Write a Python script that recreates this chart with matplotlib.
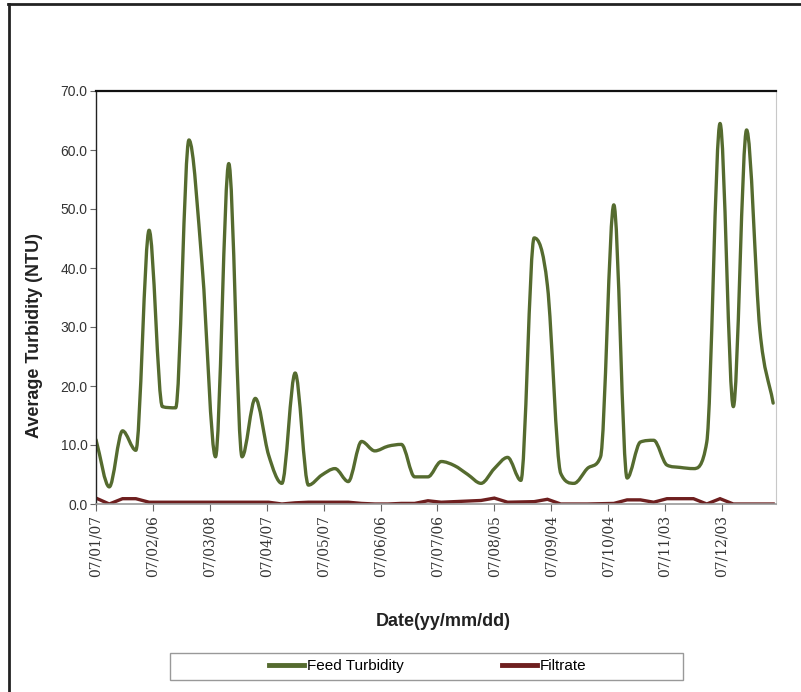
import numpy as np
import pandas as pd
import matplotlib
matplotlib.use("Agg")
import matplotlib.pyplot as plt
import matplotlib.dates as mdates
from matplotlib.path import Path
from matplotlib.patches import PathPatch, Rectangle
from matplotlib.lines import Line2D

# weekly samples, Jan 7 2007 onwards
dates = pd.date_range("2007-01-07", periods=52, freq="7D")
feed = [10.9, 2.9, 12.4, 9.1, 46.4, 16.5, 16.3, 61.7, 40.2, 8.0,
        57.7, 8.0, 17.9, 8.3, 3.5, 22.2, 3.2, 4.9, 6.0, 3.8,
        10.6, 9.0, 9.8, 10.1, 4.6, 4.6, 7.2, 6.5, 5.0, 3.5,
        6.0, 7.9, 4.0, 45.1, 37.0, 5.2, 3.5, 6.0, 8.0, 50.7,
        4.4, 10.5, 10.8, 6.6, 6.2, 6.0, 10.5, 64.5, 16.5, 63.4,
        29.5, 17.1]
filtrate = [1.0, 0.0, 0.9, 0.9, 0.3, 0.3, 0.3, 0.3, 0.3, 0.3,
            0.3, 0.3, 0.3, 0.3, 0.0, 0.2, 0.3, 0.3, 0.3, 0.3,
            0.1, 0.0, 0.0, 0.1, 0.1, 0.55, 0.3, 0.4, 0.5, 0.6,
            1.0, 0.3, 0.35, 0.4, 0.8, 0.0, 0.0, 0.0, 0.05, 0.1,
            0.7, 0.7, 0.3, 0.9, 0.9, 0.9, 0.0, 0.9, 0.0, 0.0,
            0.0, 0.0]
tick_dates = pd.date_range("2007-01-07", periods=12, freq="30D")

green = "#556B2F"
maroon = "#6E1F1F"

plt.rcParams["font.family"] = ["DejaVu Serif"]


def smooth_path(x, y):
    # smoothed line through the points, cubic Bezier with limited tangents (no overshoot)
    n = len(x)
    h = np.diff(x)
    d = np.diff(y) / h
    m = np.zeros(n)
    m[0], m[-1] = d[0], d[-1]
    for i in range(1, n - 1):
        if d[i - 1] * d[i] <= 0:
            m[i] = 0.0
        else:
            cr = (y[i + 1] - y[i - 1]) / (x[i + 1] - x[i - 1])
            lim = 3 * min(abs(d[i - 1]), abs(d[i]))
            m[i] = np.sign(cr) * min(abs(cr), lim)
    verts = [(x[0], y[0])]
    codes = [Path.MOVETO]
    for i in range(n - 1):
        verts += [(x[i] + h[i] / 3, y[i] + m[i] * h[i] / 3),
                  (x[i + 1] - h[i] / 3, y[i + 1] - m[i + 1] * h[i] / 3),
                  (x[i + 1], y[i + 1])]
        codes += [Path.CURVE4] * 3
    return Path(verts, codes)


fig = plt.figure(figsize=(8.01, 6.92), dpi=100)
ax = fig.add_axes([96 / 801, 1 - 504 / 692, 680 / 801, 413 / 692])

xnum = mdates.date2num(dates)
ax.add_patch(PathPatch(smooth_path(xnum, np.array(feed)), facecolor="none",
                       edgecolor=green, lw=2.4, capstyle="round", joinstyle="round"))
ax.plot(dates, filtrate, color=maroon, lw=2.4, solid_joinstyle="miter")

ax.set_xlim(mdates.date2num(pd.Timestamp("2007-01-07")), mdates.date2num(pd.Timestamp("2007-12-31")) + 0.5)
ax.set_ylim(0, 70)
ax.set_yticks(np.arange(0, 71, 10))
ax.yaxis.set_major_formatter(matplotlib.ticker.FormatStrFormatter("%.1f"))
ax.set_xticks(mdates.date2num(tick_dates))
ax.xaxis.set_major_formatter(mdates.DateFormatter("%y/%m/%d"))

ax.tick_params(axis="y", direction="out", length=4, color="#666666", labelsize=10,
               labelcolor="#333333", pad=2)
ax.tick_params(axis="x", direction="out", length=5, color="#666666", pad=3,
               labelsize=10, labelcolor="#333333", labelrotation=90)
fig.canvas.draw()
for lab in ax.get_yticklabels():
    lab.set_fontfamily("Liberation Sans")
for lab in ax.get_xticklabels():
    lab.set_fontfamily("DejaVu Serif")

ax.spines["top"].set_color("#111111")
ax.spines["top"].set_linewidth(1.6)
ax.spines["left"].set_color("#222222")
ax.spines["left"].set_linewidth(1.0)
ax.spines["right"].set_color("#c8c8c8")
ax.spines["bottom"].set_color("#999999")
ax.spines["bottom"].set_linewidth(1.2)

ax.set_ylabel("Average Turbidity (NTU)", fontsize=13, fontweight="bold",
              family="Liberation Sans", color="#222222")
ax.yaxis.set_label_coords(-0.078, 0.409)
ax.set_xlabel("Date(yy/mm/dd)", fontsize=13, fontweight="bold",
              family="Liberation Sans", color="#222222")
ax.xaxis.set_label_coords(0.51, -0.264)

# outer frame (top and left edges)
fig.add_artist(Line2D([8 / 801, 1], [1 - 4 / 692, 1 - 4 / 692], color="#222222", lw=2))
fig.add_artist(Line2D([9 / 801, 9 / 801], [0, 1 - 4 / 692], color="#222222", lw=2))

# legend box
fig.add_artist(Rectangle((170 / 801, 1 - 680 / 692), 513 / 801, 27 / 692,
                         transform=fig.transFigure, facecolor="none",
                         edgecolor="#999999", lw=1))
handles = [Line2D([], [], color=green, lw=3.5), Line2D([], [], color=maroon, lw=3.5)]
fig.legend(handles, ["Feed Turbidity", "Filtrate"], loc="center",
           bbox_to_anchor=(428 / 801, 1 - 666 / 692), ncol=2, frameon=False,
           prop={"family": "Liberation Sans", "size": 11},
           handlelength=2.3, handletextpad=0.2, columnspacing=6.4)

fig.savefig("out.png", dpi=100)
